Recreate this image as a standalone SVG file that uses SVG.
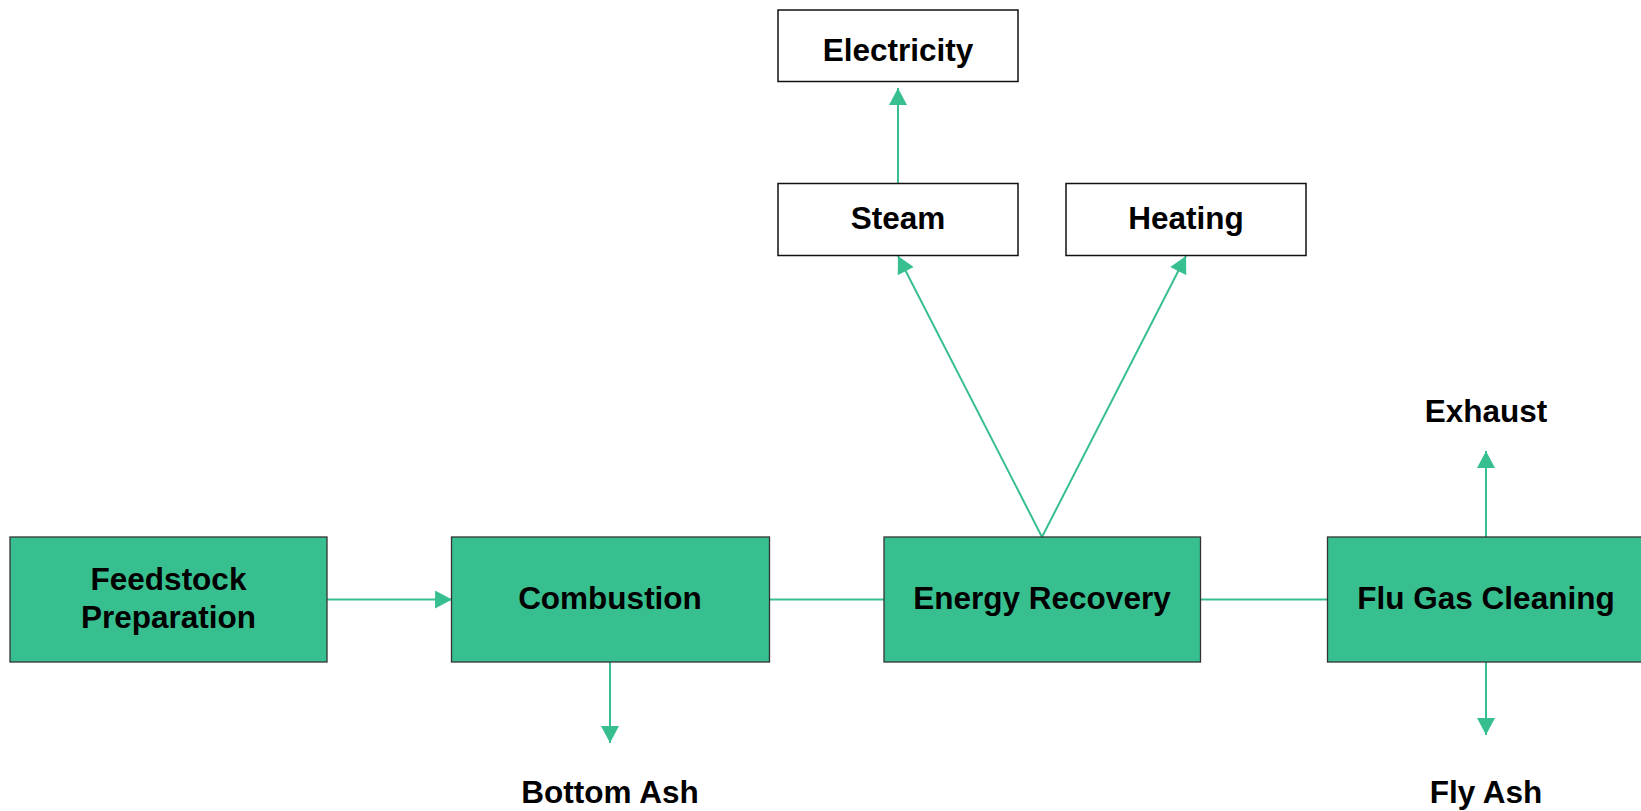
<svg xmlns="http://www.w3.org/2000/svg" width="1641" height="811" viewBox="0 0 1641 811">
<defs>
<style>
.g{fill:#38BF8F;stroke:#333;stroke-width:1.3}
.w{fill:#fff;stroke:#111;stroke-width:1.5}
.t{font-family:"Liberation Sans",Arial,sans-serif;font-weight:bold;font-size:31.5px;fill:#000;text-anchor:middle}
.c{stroke:#38BF8F;stroke-width:2;fill:none}
</style>
<marker id="ah" markerUnits="userSpaceOnUse" markerWidth="18" markerHeight="18" viewBox="0 0 16 17" refX="16" refY="8.5" orient="auto">
<path d="M0,0 L16,8.5 L0,17 Z" fill="#38BF8F"/>
</marker>
</defs>
<rect width="1641" height="811" fill="#fff"/>
<g id="connectors">
<line class="c" x1="327" y1="599.5" x2="452" y2="599.5" marker-end="url(#ah)"/>
<line class="c" x1="769" y1="599.5" x2="884" y2="599.5"/>
<line class="c" x1="1200" y1="599.5" x2="1327" y2="599.5"/>
<line class="c" x1="610" y1="662" x2="610" y2="743" marker-end="url(#ah)"/>
<line class="c" x1="1486" y1="662" x2="1486" y2="735" marker-end="url(#ah)"/>
<line class="c" x1="1486" y1="537" x2="1486" y2="451" marker-end="url(#ah)"/>
<line class="c" x1="1042" y1="537" x2="898" y2="256" marker-end="url(#ah)"/>
<line class="c" x1="1042" y1="537" x2="1186" y2="256" marker-end="url(#ah)"/>
<line class="c" x1="898" y1="183" x2="898" y2="88" marker-end="url(#ah)"/>
</g>
<g id="feedstock"><rect class="g" x="10" y="537" width="317" height="125"/><text class="t" x="168.5" y="590">Feedstock</text><text class="t" x="168.5" y="628">Preparation</text></g>
<g id="combustion"><rect class="g" x="451.5" y="537" width="318" height="125"/><text class="t" x="610" y="609">Combustion</text></g>
<g id="energy"><rect class="g" x="884" y="537" width="316.5" height="125"/><text class="t" x="1042" y="609">Energy Recovery</text></g>
<g id="flugas"><rect class="g" x="1327.5" y="537" width="318" height="125"/><text class="t" x="1486" y="609">Flu Gas Cleaning</text></g>
<g id="electricity"><rect class="w" x="778" y="10" width="240" height="71.5"/><text class="t" x="898" y="61">Electricity</text></g>
<g id="steam"><rect class="w" x="778" y="183.5" width="240" height="72"/><text class="t" x="898" y="229">Steam</text></g>
<g id="heating"><rect class="w" x="1066" y="183.5" width="240" height="72"/><text class="t" x="1186" y="229">Heating</text></g>
<g id="exhaust"><text class="t" x="1486" y="421.5">Exhaust</text></g>
<g id="bottomash"><text class="t" x="610" y="803">Bottom Ash</text></g>
<g id="flyash"><text class="t" x="1486" y="803">Fly Ash</text></g>
</svg>
